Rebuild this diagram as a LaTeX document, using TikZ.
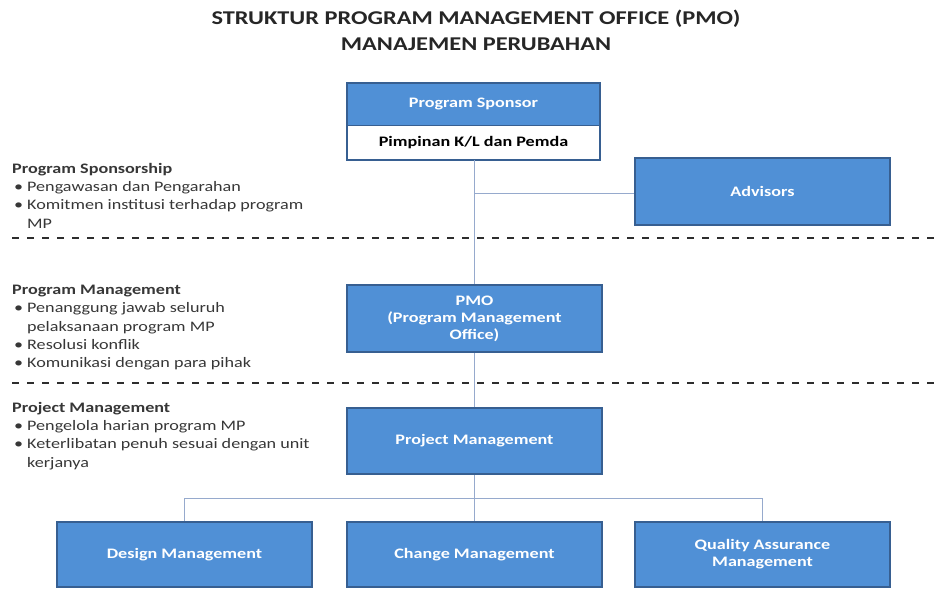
\documentclass[tikz,border=0pt]{standalone}
\usepackage{fontspec}
\setmainfont{Carlito}[FakeStretch=1.25]
\definecolor{boxblue}{RGB}{80,144,214}
\definecolor{boxedge}{RGB}{55,95,145}
\definecolor{connc}{RGB}{150,170,205}
\definecolor{dashc}{RGB}{45,45,45}
\definecolor{txtc}{RGB}{55,55,55}
\newcommand\pmobul{\makebox[15pt][l]{\hspace*{2pt}\textbullet}}
\begin{document}
\begin{tikzpicture}[x=1pt,y=-1pt,
  box/.style={draw=boxedge, line width=1.6pt, fill=boxblue, text=white,
    font=\bfseries\fontsize{14.5}{17}\selectfont, align=center,
    minimum width=255pt, minimum height=67pt, inner sep=2pt},
  conn/.style={draw=connc, line width=1pt},
  sepline/.style={draw=dashc, line width=2pt, dash pattern=on 7pt off 8pt},
  side/.style={anchor=north west, inner sep=0pt, align=left, text=txtc,
    font=\fontsize{14.5}{18.3}\selectfont},
  titlef/.style={font=\bfseries\fontsize{19.5}{22}\selectfont, text=black!85}]
\useasboundingbox (0,0) rectangle (937,589);

% title
\node[titlef] (t1) at (476,19) {STRUKTUR PROGRAM MANAGEMENT OFFICE (PMO)};
\node[titlef] (t2) at (476,44) {MANAJEMEN PERUBAHAN};

% program sponsor (two-part box)
\node[fill=boxblue, text=white, font=\bfseries\fontsize{14.5}{17}\selectfont,
  minimum width=253pt, minimum height=42pt, inner sep=0pt] (psh) at (473.5,104) {Program Sponsor};
\node[fill=white, text=black, font=\bfseries\fontsize{14.5}{17}\selectfont,
  minimum width=253pt, minimum height=35pt, inner sep=0pt] (psb) at (473.5,142.5) {Pimpinan K/L dan Pemda};
\draw[boxedge, line width=1.6pt] (psh.north west) rectangle (psb.south east);
\draw[boxedge, line width=1.2pt] (psh.south west) -- (psh.south east);

% other boxes
\node[box] (adv) at (762.5,191.5) {Advisors};
\node[box] (pmo) at (474.5,318.5) {PMO\\(Program Management\\Office)};
\node[box, minimum height=66pt] (prm) at (474.5,441) {Project Management};
\node[box, minimum height=65pt] (dm) at (184.5,554.5) {Design Management};
\node[box, minimum height=65pt] (cm) at (474.5,554.5) {Change Management};
\node[box, minimum height=65pt] (qa) at (762.5,554.5) {Quality Assurance\\Management};

% connectors
\coordinate (tap) at (474.5,193);
\coordinate (bus) at (474.5,498);
\draw[conn] (psb.south -| pmo.north) -- (pmo.north);
\draw[conn] (tap) -- (tap -| adv.west);
\draw[conn] (pmo.south) -- (prm.north);
\draw[conn] (prm.south) -- (cm.north);
\draw[conn] (dm.north) -- (dm.north |- bus) -- (qa.north |- bus) -- (qa.north);

% separators
\coordinate (s1a) at (12,238);
\coordinate (s1b) at (937,238);
\coordinate (s2a) at (12,383);
\coordinate (s2b) at (937,383);
\draw[sepline] (s1a) -- (s1b);
\draw[sepline] (s2a) -- (s2b);

% side texts
\node[side] (sps) at (12,163) {\textbf{Program Sponsorship}\\
  \pmobul Pengawasan dan Pengarahan\\
  \pmobul Komitmen institusi terhadap program\\
  \hspace*{15pt}MP};
\node[side] (spm) at (12,285) {\textbf{Program Management}\\
  \pmobul Penanggung jawab seluruh\\
  \hspace*{15pt}pelaksanaan program MP\\
  \pmobul Resolusi konflik\\
  \pmobul Komunikasi dengan para pihak};
\node[side] (sprj) at (12,402) {\textbf{Project Management}\\
  \pmobul Pengelola harian program MP\\
  \pmobul Keterlibatan penuh sesuai dengan unit\\
  \hspace*{15pt}kerjanya};
\end{tikzpicture}
\end{document}
